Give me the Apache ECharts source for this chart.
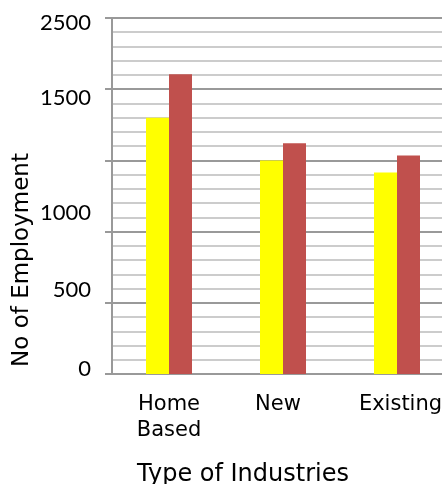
<!DOCTYPE html>
<html>
<head>
<meta charset="utf-8">
<script src="https://cdn.jsdelivr.net/npm/echarts@6/dist/echarts.min.js"></script>
<style>
  html, body { margin: 0; padding: 0; background: #fff; overflow: hidden; }
  #chart { width: 442px; height: 484px; }
</style>
</head>
<body>
<div id="chart"></div>
<script>
// Industry categories along the x axis
const categories = ['Home\nBased', 'New', 'Existing'];

// Employment counts for the two series
const seriesYellow = [1800, 1500, 1415];
const seriesRed = [2105, 1620, 1535];

// Y-axis label texts and the axis values they sit at
const yTickText = ['0', '500', '1000', '1500', '2500'];
const yTickAt = [35, 590, 1131, 1938, 2465];

const chart = echarts.init(document.getElementById('chart'), null, { renderer: 'canvas' });

const catFont = { fontFamily: 'DejaVu Sans', fontSize: 21, lineHeight: 26, color: '#000' };

chart.setOption({
  animation: false,
  backgroundColor: '#fff',
  grid: { left: 112, width: 342, top: 18, bottom: 110, containLabel: false, outerBoundsMode: 'none' },
  xAxis: {
    type: 'category',
    data: categories,
    name: 'Type of Industries',
    nameLocation: 'middle',
    nameGap: 89,
    nameMoveOverlap: false,
    nameTextStyle: {
      fontFamily: 'DejaVu Sans', fontSize: 24, color: '#000',
      padding: [0, 80, 0, 0]
    },
    axisLine: { show: true, lineStyle: { color: '#999', width: 2 } },
    axisTick: { show: false },
    axisLabel: {
      interval: 0,
      margin: 18,
      ...catFont,
      formatter: function (value, idx) {
        return value.split('\n').map(function (l) { return '{c' + idx + '|' + l + '}'; }).join('\n');
      },
      rich: {
        c0: { ...catFont },
        c1: { ...catFont, padding: [0, 10, 0, 0] },
        c2: { ...catFont, padding: [0, 0, 0, 7] }
      }
    }
  },
  yAxis: {
    type: 'value',
    min: 0,
    max: 2500,
    interval: 500,
    name: 'No of Employment',
    nameLocation: 'middle',
    nameGap: 78,
    nameMoveOverlap: false,
    nameTextStyle: {
      fontFamily: 'DejaVu Sans', fontSize: 23, color: '#000',
      padding: [0, 128, 0, 0]
    },
    axisLine: { show: true, lineStyle: { color: '#999', width: 2 } },
    axisTick: { show: true, length: 7, lineStyle: { color: '#999', width: 2 } },
    minorTick: { show: false, splitNumber: 5 },
    splitLine: { show: true, lineStyle: { color: '#999', width: 2 } },
    minorSplitLine: { show: true, lineStyle: { color: '#cccccc', width: 2 } },
    axisLabel: {
      customValues: yTickAt,
      margin: 21,
      fontFamily: 'Lato',
      fontSize: 22,
      color: '#000',
      formatter: function (value) {
        const i = yTickAt.indexOf(value);
        return i >= 0 ? yTickText[i] : '';
      }
    }
  },
  series: [
    {
      name: 'Series 1',
      type: 'bar',
      data: seriesYellow,
      barWidth: 23,
      barGap: '0%',
      itemStyle: { color: '#ffff00' }
    },
    {
      name: 'Series 2',
      type: 'bar',
      data: seriesRed,
      barWidth: 23,
      barGap: '0%',
      itemStyle: { color: '#c0504d' }
    }
  ]
});
</script>
</body>
</html>
